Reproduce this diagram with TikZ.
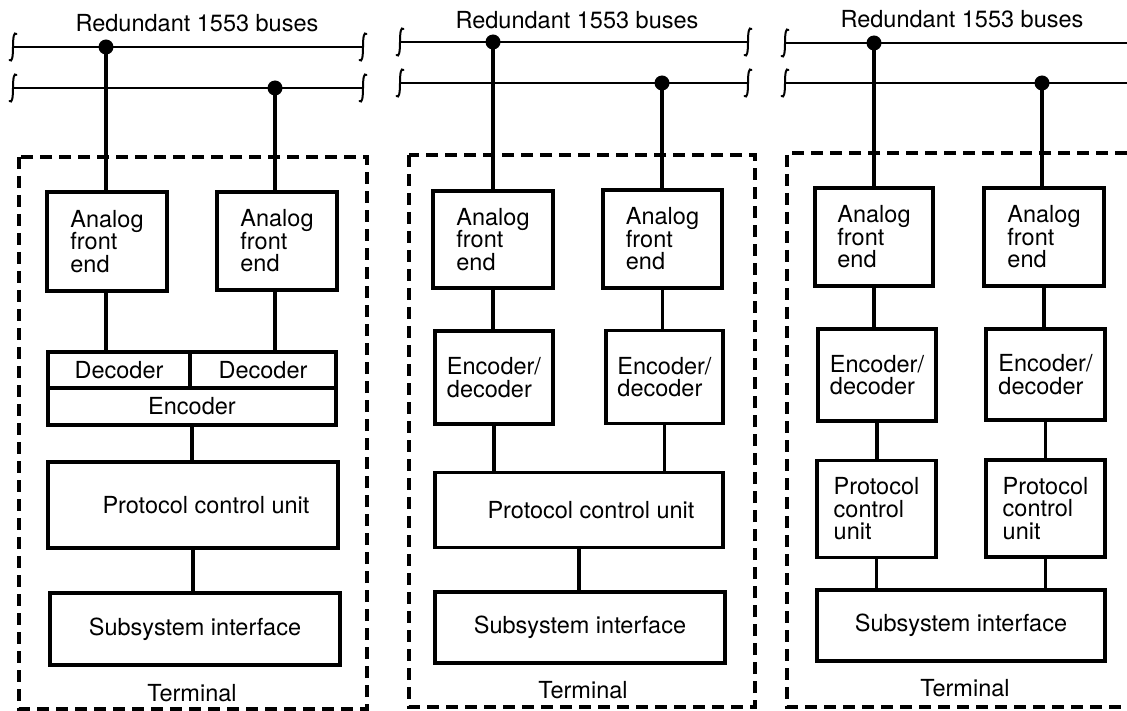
\documentclass[tikz,border=0pt]{standalone}
\usepackage{fontspec}
\setmainfont{TeX Gyre Heros}
\newcommand\diagfont{\fontsize{23.5}{22.5}\selectfont}
\begin{document}
\begin{tikzpicture}[x=1pt,y=-1pt,
  blk/.style={draw, line width=3.4pt, inner sep=0pt, align=left, font=\diagfont},
  lbl/.style={inner sep=0pt, font=\diagfont},
  conn/.style={line width=3.4pt},
  bus/.style={line width=2.3pt},
  dot/.style={circle, fill=black, inner sep=0pt, minimum size=15pt},
  dashbox/.style={line width=3.2pt, dash pattern=on 12pt off 7pt},
  busend/.pic={\draw[line width=2pt, line cap=round] (-3.5,13) .. controls (-1,15.5) and (0,10) .. (0,0) .. controls (0,-10) and (1,-15.5) .. (3.5,-13);}
]
\useasboundingbox (0,0) rectangle (1127,711);

% ================= Panel 1 =================
\node[lbl] (titleA) at (197,23) {Redundant 1553 buses};
\coordinate (busA1l) at (13,47);  \coordinate (busA1r) at (363,47);
\coordinate (busA2l) at (13,88);  \coordinate (busA2r) at (363,88);
\draw[bus] (busA1l) -- (busA1r);
\draw[bus] (busA2l) -- (busA2r);
\pic at (busA1l) {busend}; \pic at (busA1r) {busend};
\pic at (busA2l) {busend}; \pic at (busA2r) {busend};
\draw[dashbox] (19,157) rectangle (367,709);

\node[blk, minimum width=120pt, minimum height=99pt] (afeA1) at (107,241.5) {Analog\\front\\end};
\node[blk, minimum width=120pt, minimum height=98pt] (afeA2) at (277,241) {Analog\\front\\end};
\node[blk, align=center, minimum width=142pt, minimum height=36pt] (decA1) at (119,370) {Decoder};
\node[blk, align=center, minimum width=146pt, minimum height=36pt] (decA2) at (263,370) {Decoder};
\node[blk, align=center, minimum width=288pt, minimum height=37pt] (encA) at (192,406.5) {Encoder};
\node[blk, align=center, minimum width=290pt, minimum height=86pt] (pcuA) at (193,505) {\hspace*{26pt}Protocol control unit};
\node[blk, align=center, minimum width=290pt, minimum height=72pt] (siA) at (195,629) {Subsystem interface};
\node[lbl] (termA) at (192,693) {Terminal};

\node[dot] (jA1) at (106,47) {};
\node[dot] (jA2) at (275,88) {};
\draw[conn] (jA1.center) -- (jA1.center |- afeA1.north);
\draw[conn] (jA2.center) -- (jA2.center |- afeA2.north);
\draw[conn] (jA1.center |- afeA1.south) -- (jA1.center |- decA1.north);
\draw[conn] (jA2.center |- afeA2.south) -- (jA2.center |- decA2.north);
\draw[conn] (encA.south) -- (encA.south |- pcuA.north);
\draw[conn] (pcuA.south) -- (pcuA.south |- siA.north);

% ================= Panel 2 =================
\node[lbl] (titleB) at (577,20) {Redundant 1553 buses};
\coordinate (busB1l) at (400,42);  \coordinate (busB1r) at (748,42);
\coordinate (busB2l) at (400,83);  \coordinate (busB2r) at (748,83);
\draw[bus] (busB1l) -- (busB1r);
\draw[bus] (busB2l) -- (busB2r);
\pic at (busB1l) {busend}; \pic at (busB1r) {busend};
\pic at (busB2l) {busend}; \pic at (busB2r) {busend};
\draw[dashbox] (409,155) rectangle (755,707);

\node[blk, minimum width=120pt, minimum height=97pt] (afeB1) at (493,239.5) {Analog\\front\\end};
\node[blk, minimum width=119pt, minimum height=98pt] (afeB2) at (662.5,239) {Analog\\front\\end};
\node[blk, minimum width=118pt, minimum height=93pt] (edB1) at (494,377.5) {Encoder/\\decoder};
\node[blk, minimum width=117pt, minimum height=93pt] (edB2) at (664.5,377) {Encoder/\\decoder};
\node[blk, align=center, minimum width=288pt, minimum height=75pt] (pcuB) at (579,510) {\hspace*{24pt}Protocol control unit};
\node[blk, align=center, minimum width=290pt, minimum height=71pt] (siB) at (580,627.5) {Subsystem interface};
\node[lbl] (termB) at (583,690) {Terminal};

\node[dot] (jB1) at (493,42) {};
\node[dot] (jB2) at (662,83) {};
\draw[conn] (jB1.center) -- (jB1.center |- afeB1.north);
\draw[conn] (jB2.center) -- (jB2.center |- afeB2.north);
\draw[conn] (afeB1.south) -- (afeB1.south |- edB1.north);
\draw[conn] (afeB2.south) -- (afeB2.south |- edB2.north);
\draw[conn] (edB1.south) -- (edB1.south |- pcuB.north);
\draw[conn] (edB2.south) -- (edB2.south |- pcuB.north);
\draw[conn] (pcuB.south) -- (pcuB.south |- siB.north);

% ================= Panel 3 =================
\node[lbl] (titleC) at (962,19) {Redundant 1553 buses};
\coordinate (busC1l) at (785,43);  \coordinate (busC1r) at (1127,43);
\coordinate (busC2l) at (785,83);  \coordinate (busC2r) at (1127,83);
\draw[bus] (busC1l) -- (busC1r);
\draw[bus] (busC2l) -- (busC2r);
\pic at (busC1l) {busend};
\pic at (busC2l) {busend};
\draw[dashbox] (1127,153) -- (787,153) -- (787,707) -- (1127,707);

\node[blk, minimum width=118pt, minimum height=98pt] (afeC1) at (874,237) {Analog\\front\\end};
\node[blk, minimum width=120pt, minimum height=98pt] (afeC2) at (1044,237) {Analog\\front\\end};
\node[blk, minimum width=118pt, minimum height=92pt] (edC1) at (877,375) {Encoder/\\decoder};
\node[blk, minimum width=119pt, minimum height=91pt] (edC2) at (1045.5,374.5) {Encoder/\\decoder};
\node[blk, minimum width=119pt, minimum height=97pt] (pcuC1) at (876.5,509) {Protocol\\control\\unit};
\node[blk, minimum width=119pt, minimum height=97pt] (pcuC2) at (1045.5,508.5) {Protocol\\control\\unit};
\node[blk, align=center, minimum width=288pt, minimum height=71pt] (siC) at (961,625.5) {Subsystem interface};
\node[lbl] (termC) at (965,688) {Terminal};

\node[dot] (jC1) at (874,43) {};
\node[dot] (jC2) at (1042,83) {};
\draw[conn] (jC1.center) -- (jC1.center |- afeC1.north);
\draw[conn] (jC2.center) -- (jC2.center |- afeC2.north);
\draw[conn] (afeC1.south) -- (afeC1.south |- edC1.north);
\draw[conn] (afeC2.south) -- (afeC2.south |- edC2.north);
\draw[conn] (edC1.south) -- (edC1.south |- pcuC1.north);
\draw[conn] (edC2.south) -- (edC2.south |- pcuC2.north);
\draw[conn] (pcuC1.south) -- (pcuC1.south |- siC.north);
\draw[conn] (pcuC2.south) -- (pcuC2.south |- siC.north);
\end{tikzpicture}
\end{document}
